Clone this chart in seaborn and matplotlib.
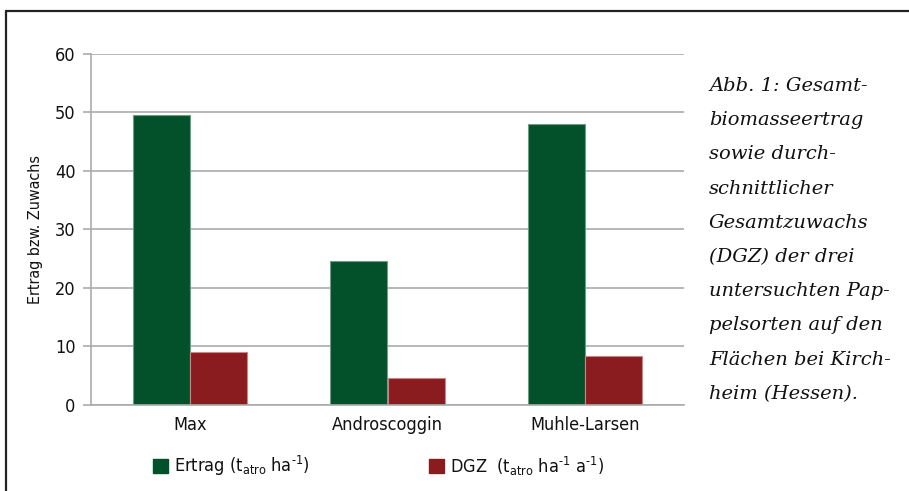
import matplotlib
matplotlib.use("Agg")
import matplotlib.pyplot as plt
from matplotlib.lines import Line2D
from matplotlib.patches import Patch
import seaborn as sns
import pandas as pd

# Poplar clones and their values
sorten = ["Max", "Androscoggin", "Muhle-Larsen"]
ertrag = [49.5, 24.6, 48.1]   # t atro / ha
dgz = [9.1, 4.5, 8.3]         # t atro / ha / a
y_ticks = [0, 10, 20, 30, 40, 50, 60]

serie_ertrag = r"Ertrag (t$_{\text{atro}}$ ha$^{\text{-1}}$)"
serie_dgz = r"DGZ  (t$_{\text{atro}}$ ha$^{\text{-1}}$ a$^{\text{-1}}$)"

caption_lines = [
    "Abb. 1: Gesamt-",
    "biomasseertrag",
    "sowie durch-",
    "schnittlicher",
    "Gesamtzuwachs",
    "(DGZ) der drei",
    "untersuchten Pap-",
    "pelsorten auf den",
    "Flächen bei Kirch-",
    "heim (Hessen).",
]

df = pd.DataFrame({
    "Sorte": sorten * 2,
    "Wert": ertrag + dgz,
    "Serie": [serie_ertrag] * 3 + [serie_dgz] * 3,
})

sns.set_theme(style="white")
plt.rcParams["font.family"] = ["DejaVu Sans"]
plt.rcParams["font.stretch"] = "condensed"
plt.rcParams["mathtext.fontset"] = "custom"
plt.rcParams["mathtext.rm"] = "DejaVu Sans:stretch=condensed"
plt.rcParams["mathtext.it"] = "DejaVu Sans:stretch=condensed"
plt.rcParams["mathtext.default"] = "rm"

green = "#03512A"
red = "#8A1B1E"
grid_c = "#ABABAB"
ink = "#111111"

fig = plt.figure(figsize=(9.09, 4.91), dpi=100)
ax = fig.add_axes([91 / 909, 1 - 404.7 / 491, (684 - 91) / 909, (404.7 - 54) / 491])

sns.barplot(data=df, x="Sorte", y="Wert", hue="Serie", order=sorten,
            hue_order=[serie_ertrag, serie_dgz], palette=[green, red],
            width=0.58, gap=0, ax=ax, legend=False, saturation=1,
            linewidth=0.8)
for patch in ax.patches:
    fc = patch.get_facecolor()
    patch.set_edgecolor("#6f9c84" if fc[1] > 0.2 else "#c9868a")

ax.set_xlim(-0.5, 2.5)
ax.set_ylim(0, 60)
ax.set_yticks(y_ticks)
ax.yaxis.grid(True, color=grid_c, linewidth=1.2)
ax.set_axisbelow(True)
for side in ["top", "right"]:
    ax.spines[side].set_visible(False)
for side in ["left", "bottom"]:
    ax.spines[side].set_color(grid_c)
    ax.spines[side].set_linewidth(1.2)

# category separators on the x axis
ax.set_xticks([0, 1, 2])
ax.set_xticks([-0.5, 0.5, 1.5, 2.5], minor=True)
ax.tick_params(axis="x", which="major", length=0, labelsize=13, pad=8, colors=ink)
ax.tick_params(axis="x", which="minor", length=6, width=1.2, color=grid_c, direction="out")
ax.tick_params(axis="y", length=6, width=1.2, color=grid_c, labelsize=13, pad=5,
               left=True, labelcolor=ink)
ax.set_xlabel("")
ax.set_ylabel("Ertrag bzw. Zuwachs", fontsize=11.5, labelpad=9, color=ink)

# legend entries below the axes
leg_kw = dict(loc="center left", frameon=False, fontsize=13, handlelength=0.85,
              handleheight=0.85, handletextpad=0.3, borderaxespad=0, borderpad=0,
              labelcolor=ink)
fig.legend([Patch(facecolor=green, edgecolor=green)], [serie_ertrag],
           bbox_to_anchor=(153 / 909, 1 - 466 / 491), **leg_kw)
fig.legend([Patch(facecolor=red, edgecolor=red)], [serie_dgz],
           bbox_to_anchor=(429 / 909, 1 - 466 / 491), **leg_kw)

# caption on the right
for i, line in enumerate(caption_lines):
    fig.text(709 / 909, 1 - (91 + 34.2 * i) / 491, line, ha="left", va="baseline",
             fontsize=14, style="italic", family=["DejaVu Serif"], stretch="normal",
             color=ink)

# outer frame (top and left edges)
fig.add_artist(Line2D([6 / 909, 1], [1 - 11 / 491, 1 - 11 / 491], color="#222222",
                      linewidth=1.6, transform=fig.transFigure))
fig.add_artist(Line2D([6 / 909, 6 / 909], [0, 1 - 11 / 491], color="#222222",
                      linewidth=1.6, transform=fig.transFigure))

fig.savefig("out.png", dpi=100)
